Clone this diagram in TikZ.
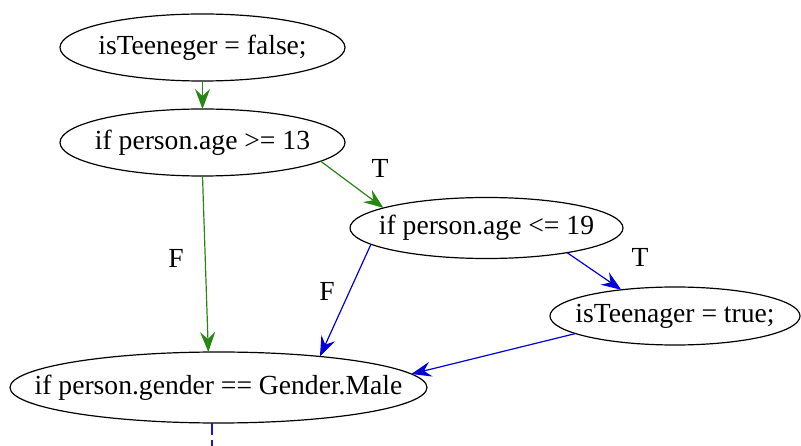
\documentclass[tikz,border=0pt]{standalone}
\usepackage{fontspec}
\setmainfont{Liberation Serif}
\usetikzlibrary{arrows.meta,shapes.geometric}
\definecolor{edgegreen}{RGB}{40,135,20}
\definecolor{edgeblue}{RGB}{0,0,215}
\definecolor{dashblue}{RGB}{20,20,235}
\newcommand{\zw}[1]{\makebox[0pt]{#1}}
\tikzset{
  stmt/.style={ellipse, draw=black, line width=1.2pt, inner sep=0pt, outer sep=0pt, font=\fontsize{27.6}{32}\selectfont},
  lbl/.style={inner sep=0pt, font=\fontsize{27.6}{32}\selectfont},
  garr/.style={draw=edgegreen, line width=1.2pt, -{Stealth[length=20pt,width=15pt,inset=7pt]}, edgegreen},
  barr/.style={draw=edgeblue, line width=1.2pt, -{Stealth[length=20pt,width=15pt,inset=7pt]}, edgeblue},
  bdash/.style={draw=dashblue, line width=2pt, dash pattern=on 12pt off 5pt},
}
\begin{document}
\begin{tikzpicture}[x=1pt,y=-1pt]
\useasboundingbox (0,0) rectangle (801,446);
\node[stmt, minimum width=285pt, minimum height=67pt] (A) at (202.5,47.5) {\zw{isTeeneger = false;}};
\node[stmt, minimum width=285pt, minimum height=67pt] (B) at (202.5,142.5) {\zw{if person.age >= 13}};
\node[stmt, minimum width=273pt, minimum height=61pt] (C) at (486.5,228) {\zw{if person.age <= 19}};
\node[stmt, minimum width=250pt, minimum height=58pt] (D) at (675,316) {\zw{isTeenager = true;}};
\node[stmt, minimum width=417pt, minimum height=71pt] (E) at (218.5,387.5) {\zw{if person.gender == Gender.Male}};
\coordinate (Eout) at (212,446);

\draw[garr] (A.south) -- (B.north);
\draw[garr] (B.-9) -- (C.169);
\draw[garr] (B.south) -- (E.106);
\draw[barr] (C.188) -- (E.17);
\draw[barr] (C.-17) -- (D.154);
\draw[barr] (D.190) -- (E.4);
\draw[bdash] (Eout |- E.south) -- (Eout);

\node[lbl] (tT1) at (380,168) {T};
\node[lbl] (tF1) at (176,258) {F};
\node[lbl] (tF2) at (327,291) {F};
\node[lbl] (tT2) at (640,257) {T};
\end{tikzpicture}
\end{document}
